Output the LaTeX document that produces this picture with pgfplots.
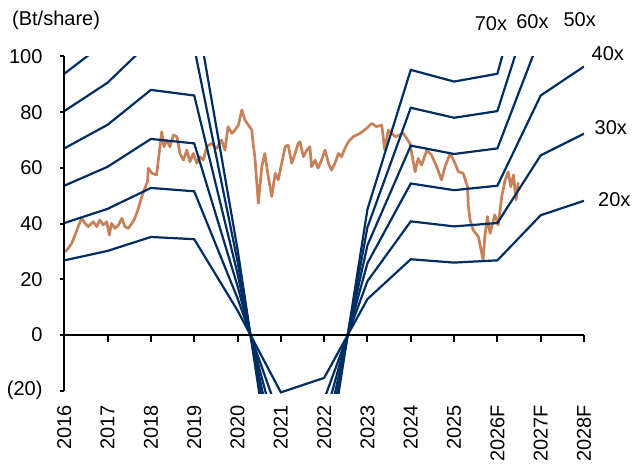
\documentclass[border=0pt]{standalone}
\usepackage{fontspec}
\setmainfont{Liberation Sans}
\usepackage{pgfplots}
\pgfplotsset{compat=1.18}

\definecolor{band}{RGB}{0,45,98}
\definecolor{price}{RGB}{198,129,88}

\begin{document}
\begin{tikzpicture}
\useasboundingbox (-64.3pt,-72.5pt) rectangle (569.7pt,393.5pt);
\begin{axis}[
    at={(0pt,0pt)}, anchor=south west,
    scale only axis,
    width=519.7pt, height=337pt,
    xmin=2016, xmax=2028,
    ymin=-21, ymax=100,
    clip mode=individual,
    axis line style={draw=none},
    major tick length=0pt,
    xtick={2016,2017,2018,2019,2020,2021,2022,2023,2024,2025,2026,2027,2028},
    xticklabels={2016,2017,2018,2019,2020,2021,2022,2023,2024,2025,2026F,2027F,2028F},
    ytick={-20,0,20,40,60,80,100},
    yticklabels={(20),0,20,40,60,80,100},
    tick label style={font=\fontsize{20}{24}\selectfont, inner sep=0pt},
    xticklabel style={rotate=90, anchor=east},
    xticklabel shift=11.5pt,
    yticklabel style={anchor=east},
    yticklabel shift=21.6pt,
]

% share price
\addplot[color=price, line width=2.7pt, line join=round, line cap=round] coordinates {
(2016.02,29.9)(2016.09,31.1)(2016.17,32.9)(2016.25,35.9)(2016.32,38.9)
(2016.40,41.9)(2016.48,40.1)(2016.55,38.9)(2016.67,40.7)(2016.75,38.9)
(2016.82,41.3)(2016.90,39.5)(2016.98,40.7)(2017.04,35.9)(2017.09,40.1)
(2017.17,38.3)(2017.25,39.5)(2017.33,41.9)(2017.40,38.9)(2017.48,38.3)
(2017.56,40.1)(2017.63,41.9)(2017.71,45.5)(2017.79,49.7)(2017.86,52.7)
(2017.92,55.0)(2017.94,59.9)(2018.02,58.1)(2018.13,57.5)(2018.19,65.2)
(2018.25,73.0)(2018.30,67.6)(2018.36,70.0)(2018.44,67.6)(2018.52,71.8)
(2018.60,71.2)(2018.67,65.2)(2018.75,62.8)(2018.83,66.4)(2018.90,62.2)
(2018.98,65.2)(2019.06,61.7)(2019.13,64.0)(2019.21,62.8)(2019.29,67.6)
(2019.40,68.8)(2019.52,67.0)(2019.63,70.0)(2019.71,66.4)(2019.78,74.8)
(2019.87,72.4)(2019.94,73.6)(2020.02,75.4)(2020.10,80.8)(2020.17,77.2)
(2020.25,75.4)(2020.33,73.6)(2020.36,68.8)(2020.40,64.0)(2020.44,55.7)
(2020.48,47.3)(2020.56,60.4)(2020.63,65.2)(2020.71,56.8)(2020.79,49.7)
(2020.87,58.1)(2020.94,55.7)(2021.02,61.7)(2021.10,67.6)(2021.17,68.2)
(2021.25,61.7)(2021.33,65.2)(2021.40,68.8)(2021.44,69.4)(2021.52,64.0)
(2021.60,66.4)(2021.67,67.6)(2021.71,60.4)(2021.79,62.8)(2021.86,59.9)
(2021.94,62.8)(2022.02,66.4)(2022.10,61.7)(2022.17,59.2)(2022.25,61.7)
(2022.33,65.2)(2022.40,64.0)(2022.48,67.0)(2022.56,69.4)(2022.67,71.2)
(2022.83,72.4)(2022.98,74.2)(2023.10,76.0)(2023.21,74.8)(2023.33,75.4)
(2023.40,66.4)(2023.48,73.6)(2023.64,71.2)(2023.83,72.4)(2023.98,68.8)
(2024.10,58.6)(2024.17,63.4)(2024.25,61.0)(2024.37,66.4)(2024.48,64.6)
(2024.60,60.4)(2024.71,55.7)(2024.79,60.4)(2024.91,65.2)(2025.02,61.7)
(2025.10,58.6)(2025.21,58.1)(2025.31,53.2)(2025.33,46.1)(2025.37,41.3)
(2025.44,37.7)(2025.56,35.3)(2025.64,29.3)(2025.67,26.9)(2025.71,35.3)
(2025.77,42.5)(2025.83,36.5)(2025.94,43.1)(2026.02,39.5)(2026.10,49.7)
(2026.18,55.7)(2026.25,58.6)(2026.31,53.2)(2026.37,57.5)(2026.43,48.5)
(2026.48,54.5)
};

% PE bands
\addplot[color=band, line width=2.2pt] coordinates {
(2016,26.8)(2017,30.2)(2018,35.2)(2019,34.4)(2020,8.8)(2021,-20.6)(2022,-15.4)
(2023,12.9)(2024,27.2)(2025,26.0)(2026,26.8)(2027,43.0)(2028,48.2)};
\addplot[color=band, line width=2.2pt] coordinates {
(2016,40.2)(2017,45.3)(2018,52.8)(2019,51.6)(2020,13.2)(2021,-30.9)(2022,-23.1)
(2023,19.35)(2024,40.8)(2025,39.0)(2026,40.2)(2027,64.5)(2028,72.3)};
\addplot[color=band, line width=2.2pt] coordinates {
(2016,53.6)(2017,60.4)(2018,70.4)(2019,68.8)(2020,17.6)(2021,-41.2)(2022,-30.8)
(2023,25.8)(2024,54.4)(2025,52.0)(2026,53.6)(2027,86.0)(2028,96.4)};
\addplot[color=band, line width=2.2pt] coordinates {
(2016,67.0)(2017,75.5)(2018,88.0)(2019,86.0)(2020,22.0)(2021,-51.5)(2022,-38.5)
(2023,32.25)(2024,68.0)(2025,65.0)(2026,67.0)(2027,107.5)(2028,120.5)};
\addplot[color=band, line width=2.2pt] coordinates {
(2016,80.4)(2017,90.6)(2018,105.6)(2019,103.2)(2020,26.4)(2021,-61.8)(2022,-46.2)
(2023,38.7)(2024,81.6)(2025,78.0)(2026,80.4)(2027,129.0)(2028,144.6)};
\addplot[color=band, line width=2.2pt] coordinates {
(2016,93.8)(2017,105.7)(2018,123.2)(2019,120.4)(2020,30.8)(2021,-72.1)(2022,-53.9)
(2023,45.15)(2024,95.2)(2025,91.0)(2026,93.8)(2027,150.5)(2028,168.7)};

% axis lines and ticks
\draw[line width=2pt] (axis cs:2016,-20) -- (axis cs:2016,100);
\draw[line width=2pt] (axis cs:2016,0) -- (axis cs:2028,0);
\pgfplotsinvokeforeach{-20,0,20,40,60,80,100}{
  \draw[line width=2pt] (axis cs:2016,#1) -- ++(-4.5pt,0pt);
}
\pgfplotsinvokeforeach{2016,2017,2018,2019,2020,2021,2022,2023,2024,2025,2026,2027,2028}{
  \draw[line width=2pt] (axis cs:#1,0) -- ++(0pt,-7pt);
}

% labels
\node[inner sep=0pt, font=\fontsize{20}{24}\selectfont] at (axis cs:2015.81,113.1) {(Bt/share)};
\node[inner sep=0pt, font=\fontsize{20}{24}\selectfont] at (axis cs:2025.85,111.8) {70x};
\node[inner sep=0pt, font=\fontsize{20}{24}\selectfont] at (axis cs:2026.81,112.5) {60x};
\node[inner sep=0pt, font=\fontsize{20}{24}\selectfont] at (axis cs:2027.90,113.1) {50x};
\node[inner sep=0pt, font=\fontsize{20}{24}\selectfont] at (axis cs:2028.55,101.1) {40x};
\node[inner sep=0pt, font=\fontsize{20}{24}\selectfont] at (axis cs:2028.62,74.3) {30x};
\node[inner sep=0pt, font=\fontsize{20}{24}\selectfont] at (axis cs:2028.70,48.5) {20x};
\end{axis}
\end{tikzpicture}
\end{document}
